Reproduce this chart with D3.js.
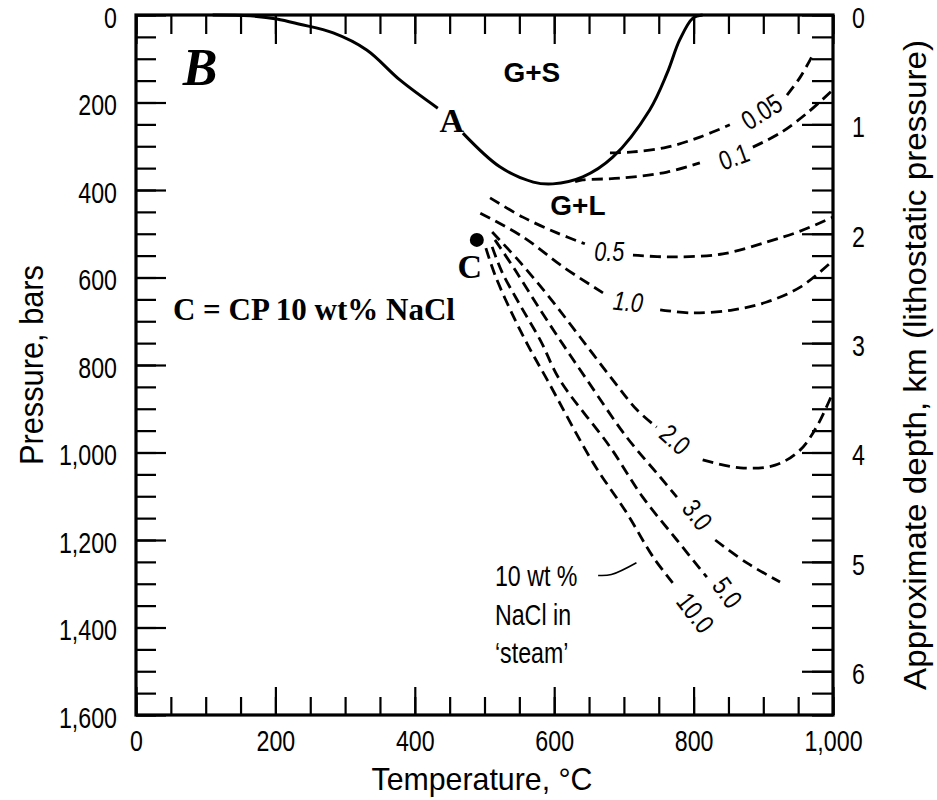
<!DOCTYPE html>
<html>
<head>
<meta charset="utf-8">
<script src="https://cdn.jsdelivr.net/npm/d3@7"></script>
<style>
  html, body { margin: 0; padding: 0; background: #fff; }
  svg { display: block; }
  .narrow { font-family: "Liberation Sans", Arial, sans-serif; }
</style>
</head>
<body>
<svg id="chart" width="937" height="800"></svg>
<script>
// ---------- data ----------
const tempMajorTicks = [0, 200, 400, 600, 800, 1000];
const tempMinorTicks = d3.range(0, 1001, 50);
const pressureMajorTicks = [0, 200, 400, 600, 800, 1000, 1200, 1400, 1600];
const pressureMinorTicks = d3.range(0, 1601, 50);
const depthMajorTicks = [0, 1, 2, 3, 4, 5, 6];
const depthMinorTicks = d3.range(0, 33).map(i => +(i * 0.2).toFixed(1));

// solid G+S / G+L boundary (T °C, P bar); null = gap for label "A"
const haliteCurve = [[110,0],[164,2],[202,9],[235,21],[283,41],[331,80],[379,149],[433,213],null,
  [469,270],[522,347],[570,382],[598,386],[641,370],[684,325],[737,217],[762,133],[780,57],[799,7],[813,0]];

// dashed iso-composition curves (wt% NaCl in steam); null = gap for inline label
const iso005 = [[680,315],[713,313],[762,302],[809,279],[852,251],null,[934,183],[953,142],[973,85]];
const iso01  = [[630,381],[641,377],[694,373],[762,359],[809,338],null,[885,302],[924,270],[963,224],[1000,171]];
const iso05  = [[508,418],[555,462],[604,498],[644,523],null,[713,549],[770,553],[842,546],[905,519],[953,494],[1000,462]];
const iso10  = [[494,453],[555,507],[613,576],[670,635],null,[752,674],[799,681],[857,674],[905,656],[953,622],[996,567]];
const iso20  = [[511,496],[551,565],[594,647],[637,736],[684,834],[719,903],[747,942],null,
  [813,1017],[867,1035],[917,1029],[953,994],[978,937],[1000,862]];
const iso30  = [[515,514],[544,583],[580,674],[613,754],[647,834],[704,965],[752,1056],[776,1102],null,
  [831,1200],[877,1253],[924,1296]];
const iso50  = [[511,530],[525,587],[551,663],[580,743],[608,834],[680,987],[727,1102],[776,1200],[819,1285]];
const iso100 = [[502,533],[515,594],[537,674],[562,754],[590,834],[656,1024],[704,1138],[742,1239],[770,1298]];
const isoCurves = [iso005, iso01, iso05, iso10, iso20, iso30, iso50, iso100];

// inline curve labels: text, T, P, rotation, italic
const isoLabels = [
  ["0.05", 898, 222, -32, false],
  ["0.1", 858, 325, -20, false],
  ["0.5", 679, 542, 0, true],
  ["1.0", 706, 656, 6, true],
  ["2.0", 773, 971, 42, false],
  ["3.0", 805, 1143, 52, false],
  ["5.0", 848, 1321, 54, false],
  ["10.0", 802, 1367, 52, false]
];

// critical point of 10 wt% NaCl
const criticalPoint = [489, 514];

// region / annotation labels: text, T, P
const regionLabels = [["G+S", 568, 153], ["G+L", 634, 457]];
const serifLabels = [["A", 453, 267], ["C", 479, 601]];
const panelLabel = ["B", 67, 160];
const cpNote = ["C = CP 10 wt% NaCl", 53, 697];
const steamNote = [["10 wt %", 515, 1305], ["NaCl in", 515, 1394], ["\u2018steam\u2019", 515, 1481]];
const steamLeader = [[663,1281],[682,1279],[718,1252]];

// ---------- scales ----------
const x = d3.scaleLinear().domain([0, 1000]).range([136, 833]);
const y = d3.scaleLinear().domain([0, 1600]).range([15, 715]);
const yDepth = d3.scaleLinear().domain([0, 6.4]).range([15, 715]);

const svg = d3.select("#chart");
svg.append("rect").attr("width", 937).attr("height", 800).attr("fill", "#fff");

const fmt = d3.format(",");
const tickFont = 29;

function styleAxis(g) {
  g.select(".domain").remove();
  g.selectAll(".tick line").attr("stroke", "#000").attr("stroke-width", 2.2);
  g.selectAll(".tick text").attr("class", "narrow").attr("font-size", tickFont).attr("fill", "#000");
}

// left axis
svg.append("g").attr("transform", "translate(136,0)")
  .call(d3.axisLeft(y).tickValues(pressureMinorTicks).tickSize(-20).tickFormat(""))
  .call(styleAxis);
svg.append("g").attr("transform", "translate(136,0)")
  .call(d3.axisLeft(y).tickValues(pressureMajorTicks).tickSize(-30).tickPadding(19).tickFormat(fmt))
  .call(styleAxis)
  .call(g => g.selectAll(".tick text").attr("dy", "0.43em"));

// bottom axis
svg.append("g").attr("transform", "translate(0,715)")
  .call(d3.axisBottom(x).tickValues(tempMinorTicks).tickSize(-18).tickFormat(""))
  .call(styleAxis);
svg.append("g").attr("transform", "translate(0,715)")
  .call(d3.axisBottom(x).tickValues(tempMajorTicks).tickSize(-28).tickPadding(15).tickFormat(fmt))
  .call(styleAxis);

// top axis
svg.append("g").attr("transform", "translate(0,15)")
  .call(d3.axisTop(x).tickValues(tempMinorTicks).tickSize(-19).tickFormat(""))
  .call(styleAxis);
svg.append("g").attr("transform", "translate(0,15)")
  .call(d3.axisTop(x).tickValues(tempMajorTicks).tickSize(-29).tickFormat(""))
  .call(styleAxis);

// right axis (depth)
svg.append("g").attr("transform", "translate(833,0)")
  .call(d3.axisRight(yDepth).tickValues(depthMinorTicks).tickSize(-21).tickFormat(""))
  .call(styleAxis);
svg.append("g").attr("transform", "translate(833,0)")
  .call(d3.axisRight(yDepth).tickValues(depthMajorTicks).tickSize(-31).tickPadding(19).tickFormat(d3.format("d")))
  .call(styleAxis)
  .call(g => g.selectAll(".tick text").attr("dy", "0.43em"));

// frame
svg.append("rect").attr("x", x(0)).attr("y", y(0))
  .attr("width", x(1000) - x(0)).attr("height", y(1600) - y(0))
  .attr("fill", "none").attr("stroke", "#000").attr("stroke-width", 3.2);

// axis titles
svg.append("text").attr("class", "fixed").attr("font-family", "'Liberation Sans', Arial, sans-serif")
  .attr("font-size", 32)
  .attr("text-anchor", "middle").attr("x", 482).attr("y", 790)
  .attr("textLength", 221).attr("lengthAdjust", "spacingAndGlyphs")
  .text("Temperature, \u00B0C");
svg.append("text").attr("class", "fixed").attr("font-family", "'Liberation Sans', Arial, sans-serif")
  .attr("font-size", 33)
  .attr("text-anchor", "middle").attr("transform", "translate(43,365) rotate(-90)")
  .attr("textLength", 200).attr("lengthAdjust", "spacingAndGlyphs")
  .text("Pressure, bars");
svg.append("text").attr("class", "fixed").attr("font-family", "'Liberation Sans', Arial, sans-serif")
  .attr("font-size", 32)
  .attr("text-anchor", "middle").attr("transform", "translate(926,365) rotate(-90)")
  .attr("textLength", 650).attr("lengthAdjust", "spacingAndGlyphs")
  .text("Approximate depth, km (lithostatic pressure)");

// curves
const line = d3.line().defined(d => d !== null).x(d => x(d[0])).y(d => y(d[1]))
  .curve(d3.curveCatmullRom.alpha(0.5));

svg.append("path").datum(haliteCurve).attr("d", line)
  .attr("fill", "none").attr("stroke", "#000").attr("stroke-width", 3);

svg.selectAll("path.iso").data(isoCurves).join("path").attr("class", "iso")
  .attr("d", line).attr("fill", "none").attr("stroke", "#000")
  .attr("stroke-width", 2.8).attr("stroke-dasharray", "11,6");

// inline iso labels
svg.selectAll("text.iso").data(isoLabels).join("text").attr("class", "iso narrow")
  .attr("font-size", 27).attr("text-anchor", "middle").attr("dominant-baseline", "central")
  .attr("font-style", d => d[4] ? "italic" : "normal")
  .attr("transform", d => `translate(${x(d[1])},${y(d[2])}) rotate(${d[3]})`)
  .text(d => d[0]);

// critical point
svg.append("circle").attr("cx", x(criticalPoint[0])).attr("cy", y(criticalPoint[1]))
  .attr("r", 7).attr("fill", "#000");

// region labels
svg.selectAll("text.region").data(regionLabels).join("text").attr("class", "region")
  .attr("font-family", "'Liberation Sans', Arial, sans-serif").attr("font-weight", "bold")
  .attr("font-size", 28).attr("text-anchor", "middle")
  .attr("x", d => x(d[1])).attr("y", d => y(d[2])).text(d => d[0]);

svg.selectAll("text.serif").data(serifLabels).join("text").attr("class", "serif")
  .attr("font-family", "'Liberation Serif', 'Times New Roman', serif").attr("font-weight", "bold")
  .attr("font-size", 34).attr("text-anchor", "middle")
  .attr("x", d => x(d[1])).attr("y", d => y(d[2])).text(d => d[0]);

svg.append("text").attr("font-family", "'Liberation Serif', 'Times New Roman', serif")
  .attr("font-weight", "bold").attr("font-style", "italic").attr("font-size", 52)
  .attr("x", x(panelLabel[1])).attr("y", y(panelLabel[2])).text(panelLabel[0]);

svg.append("text").attr("font-family", "'Liberation Serif', 'Times New Roman', serif")
  .attr("font-weight", "bold").attr("font-size", 31)
  .attr("x", x(cpNote[1])).attr("y", y(cpNote[2])).text(cpNote[0]);

svg.selectAll("text.steam").data(steamNote).join("text").attr("class", "steam narrow")
  .attr("font-size", 29).attr("x", d => x(d[1])).attr("y", d => y(d[2])).text(d => d[0]);

svg.append("path").datum(steamLeader)
  .attr("d", d3.line().x(d => x(d[0])).y(d => y(d[1])).curve(d3.curveCatmullRom))
  .attr("fill", "none").attr("stroke", "#000").attr("stroke-width", 1.6);

// condense the sans texts to a narrow width (the original uses a condensed face)
svg.selectAll("text.narrow").each(function () {
  const len = this.getComputedTextLength();
  if (len > 0) {
    d3.select(this).attr("textLength", (len * 0.8).toFixed(1)).attr("lengthAdjust", "spacingAndGlyphs");
  }
});
</script>
</body>
</html>
